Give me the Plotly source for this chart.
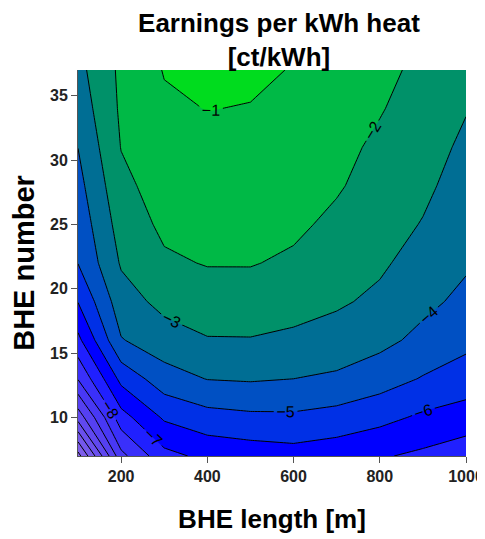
import plotly.graph_objects as go

# BHE length [m]
bhe_length = [100, 200, 300, 400, 500, 600, 700, 800, 900, 1000]
# BHE number
bhe_number = [7, 10, 13, 16, 19, 22, 25, 28, 31, 34, 37]

# Earnings per kWh heat [ct/kWh]; one row per BHE number, one column per BHE length
earn_y7 = [-15.4, -9.3, -7.3, -6.75, -6.55, -6.4, -6.6, -6.9, -7.2, -7.6]
earn_y10 = [-11.6, -7.39, -5.86, -5.36, -5.2, -5.17, -5.36, -5.7, -6.17, -6.44]
earn_y13 = [-8.94, -5.71, -4.43, -3.97, -3.9, -4.0, -4.16, -4.55, -5.07, -5.48]
earn_y16 = [-7.25, -4.06, -3.43, -3.06, -3.05, -3.19, -3.4, -3.73, -4.26, -4.73]
earn_y19 = [-5.97, -3.43, -2.72, -2.46, -2.44, -2.63, -2.87, -3.2, -3.76, -4.24]
earn_y22 = [-4.98, -2.9, -2.15, -1.95, -1.95, -2.15, -2.54, -2.85, -3.4, -3.88]
earn_y25 = [-4.65, -2.57, -1.8, -1.71, -1.73, -1.82, -2.21, -2.6, -3.05, -3.65]
earn_y28 = [-4.32, -2.26, -1.55, -1.46, -1.5, -1.6, -1.9, -2.4, -2.8, -3.42]
earn_y31 = [-3.99, -1.97, -1.35, -1.22, -1.26, -1.4, -1.75, -2.17, -2.6, -3.19]
earn_y34 = [-3.6, -1.85, -1.15, -0.98, -1.04, -1.23, -1.62, -1.94, -2.4, -2.95]
earn_y37 = [-3.3, -1.8, -0.95, -0.75, -0.8, -1.05, -1.45, -1.78, -2.2, -2.7]

earnings = [earn_y7, earn_y10, earn_y13, earn_y16, earn_y19, earn_y22,
            earn_y25, earn_y28, earn_y31, earn_y34, earn_y37]

x_ticks = [200, 400, 600, 800, 1000]
y_ticks = [10, 15, 20, 25, 30, 35]

# band colours from lowest band (below -15) to highest (above -1)
band_colors = ["#8865E8", "#7E5EEA", "#7458EC", "#6A50EE", "#6048F0", "#5540F2",
               "#4838F5", "#3A30FA", "#2020FF", "#0000FF", "#0030E6", "#0050C3",
               "#006E94", "#009169", "#00B946", "#00DC1E"]
n = len(band_colors) - 1
colorscale = [[i / n, c] for i, c in enumerate(band_colors)]

FONT = "Liberation Sans, Arial, sans-serif"

fig = go.Figure(go.Contour(
    x=bhe_length, y=bhe_number, z=earnings,
    autocontour=False,
    contours=dict(start=-15, end=-1, size=1, coloring="fill",
                  showlabels=True,
                  labelfont=dict(size=16, color="black", family=FONT)),
    colorscale=colorscale,
    line=dict(color="black", width=1, smoothing=0),
    showscale=False,
))

fig.update_layout(
    width=477, height=531,
    margin=dict(l=70, r=19, t=62, b=83, autoexpand=False),
    paper_bgcolor="white", plot_bgcolor="white",
    font=dict(family=FONT, color="#222"),
    title=dict(text="Earnings per kWh heat<br>[ct/kWh]",
               font=dict(size=26, color="black", family=FONT, weight="bold"),
               x=0.568, xanchor="center", yref="container", y=0.955, yanchor="top",
               automargin=False),
    xaxis=dict(range=[100, 1000], tickvals=x_ticks, ticks="outside", ticklen=6,
               tickcolor="#555", showline=True, linecolor="#555", showgrid=False,
               zeroline=False, automargin=False, ticklabeloverflow="allow",
               tickfont=dict(size=16, weight="bold", color="#222"),
               title=dict(text="BHE length [m]", standoff=25,
                          font=dict(size=26, weight="bold", color="black"))),
    yaxis=dict(range=[7, 37], tickvals=y_ticks, ticks="outside", ticklen=6,
               tickcolor="#555", showline=True, linecolor="#555", showgrid=False,
               zeroline=False, automargin=False,
               tickfont=dict(size=16, weight="bold", color="#222"),
               title=dict(text="BHE number", standoff=8,
                          font=dict(size=29, weight="bold", color="black"))),
)

fig.write_html("out.html")
